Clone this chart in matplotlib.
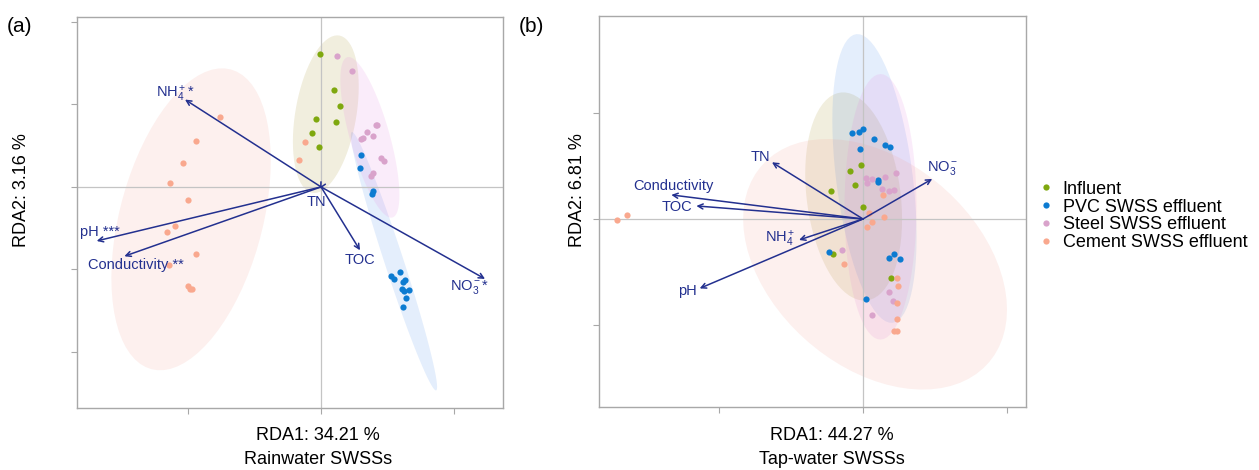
import numpy as np
import matplotlib
matplotlib.use("Agg")
import matplotlib.pyplot as plt
from matplotlib.lines import Line2D

plt.rcParams["font.family"] = ["Liberation Sans", "DejaVu Sans"]
plt.rcParams["mathtext.fontset"] = "custom"
plt.rcParams["mathtext.rm"] = "Liberation Sans"
plt.rcParams["mathtext.it"] = "Liberation Sans:italic"
plt.rcParams["mathtext.bf"] = "Liberation Sans:bold"

# ---------------- data ----------------
groups = ["Influent", "PVC SWSS effluent", "Steel SWSS effluent", "Cement SWSS effluent"]

# Rainwater SWSSs: sample scores (RDA1, RDA2)
rain_influent_x = [-0.005, 0.098, 0.143, -0.035, 0.110, -0.065, -0.013]
rain_influent_y = [1.610, 1.170, 0.984, 0.824, 0.786, 0.655, 0.479]
rain_pvc_x = [0.301, 0.293, 0.388, 0.381, 0.529, 0.546, 0.596, 0.629, 0.617, 0.612, 0.622, 0.662, 0.642, 0.617]
rain_pvc_y = [0.392, 0.226, -0.048, -0.085, -1.079, -1.119, -1.034, -1.127, -1.156, -1.232, -1.265, -1.253, -1.349, -1.455]
rain_steel_x = [0.118, 0.233, 0.411, 0.424, 0.348, 0.388, 0.301, 0.316, 0.454, 0.474, 0.388, 0.373]
rain_steel_y = [1.592, 1.406, 0.747, 0.747, 0.667, 0.618, 0.586, 0.594, 0.347, 0.319, 0.174, 0.137]
rain_cement_x = [-0.759, -0.937, -1.035, -1.135, -0.997, -1.100, -1.155, -0.940, -1.143, -1.000, -0.985, -0.972, -0.120, -0.168]
rain_cement_y = [0.853, 0.562, 0.287, 0.053, -0.162, -0.473, -0.545, -0.816, -0.941, -1.196, -1.240, -1.240, 0.541, 0.331]

# Rainwater SWSSs: environmental factor vectors
rain_env_labels = [r"NH$_4^+$*", "pH ***", "Conductivity **", "TN", "TOC", r"NO$_3^-$*"]
rain_env_x = [-1.023, -1.687, -1.479, -0.008, 0.293, 1.233]
rain_env_y = [1.059, -0.655, -0.840, -0.024, -0.768, -1.115]
rain_label_x = [-1.098, -1.662, -1.391, -0.038, 0.293, 1.118]
rain_label_y = [1.131, -0.545, -0.941, -0.182, -0.881, -1.212]

# Tap-water SWSSs: sample scores (RDA1, RDA2)
tap_influent_x = [-0.012, -0.088, -0.058, -0.222, 0.000, -0.211, 0.194]
tap_influent_y = [0.513, 0.453, 0.318, 0.264, 0.113, -0.333, -0.560]
tap_pvc_x = [-0.074, -0.025, 0.002, 0.079, 0.150, 0.190, -0.019, 0.102, 0.104, -0.236, 0.183, 0.213, 0.255, 0.019]
tap_pvc_y = [0.808, 0.824, 0.852, 0.758, 0.698, 0.679, 0.657, 0.368, 0.352, -0.314, -0.365, -0.327, -0.377, -0.752]
tap_steel_x = [0.023, 0.028, 0.060, 0.155, 0.227, 0.132, 0.178, 0.213, -0.146, 0.178, 0.208, 0.065]
tap_steel_y = [0.390, 0.343, 0.380, 0.396, 0.437, 0.283, 0.267, 0.270, -0.289, -0.692, -0.774, -0.909]
tap_cement_x = [0.141, 0.042, 0.148, 0.065, 0.030, -0.130, 0.236, 0.243, 0.236, 0.238, 0.215, 0.236, -1.706, -1.641]
tap_cement_y = [0.226, 0.057, 0.019, -0.031, -0.079, -0.425, -0.560, -0.632, -0.796, -0.943, -1.057, -1.057, -0.009, 0.041]

# Tap-water SWSSs: environmental factor vectors
tap_env_labels = ["Conductivity", "TOC", "TN", r"NH$_4^+$", "pH", r"NO$_3^-$"]
tap_env_x = [-1.331, -1.157, -0.632, -0.444, -1.134, 0.481]
tap_env_y = [0.227, 0.123, 0.535, -0.198, -0.655, 0.378]
tap_label_x = [-1.315, -1.292, -0.711, -0.574, -1.220, 0.556]
tap_label_y = [0.312, 0.117, 0.583, -0.192, -0.677, 0.485]

# ---------------- style ----------------
point_colors = ["#7FA80F", "#0C7BD1", "#D9A3CB", "#F9A88E"]
fill_colors = ["#A28E23", "#4B8EEB", "#E480DE", "#F29B8E"]
arrow_color = "#23308F"
frame_color = "#A8A8A8"
zero_color = "#C4C4C4"


def t_ellipse(x, y, level=0.95, segments=72, nu=5):
    """Confidence ellipse from a robust multivariate-t covariance estimate."""
    pts = np.column_stack([x, y]).astype(float)
    n, p = pts.shape
    loc = pts.mean(axis=0)
    w = np.ones(n)
    X = pts - loc
    for _ in range(25):
        w0 = w
        X = pts - loc
        _, d, vt = np.linalg.svd(np.sqrt(w / w.sum())[:, None] * X, full_matrices=False)
        wX = X @ vt.T @ np.diag(1.0 / d)
        Q = (wX ** 2).sum(axis=1)
        w = (nu + p) / (nu + Q)
        loc = (w[:, None] * pts).sum(axis=0) / w.sum()
        if np.all(np.abs(w - w0) < 0.01):
            break
    sX = np.sqrt(w)[:, None] * X
    cov = sX.T @ sX / n
    upper = np.linalg.cholesky(cov).T
    dfd = n - 1
    fq = (dfd / 2.0) * ((1 - level) ** (-2.0 / dfd) - 1)
    radius = np.sqrt(2 * fq)
    ang = np.linspace(0, 2 * np.pi, segments + 1)
    circle = np.column_stack([np.cos(ang), np.sin(ang)])
    ell = loc + radius * circle @ upper
    return ell[:, 0], ell[:, 1]


def draw_panel(ax, samples, env_x, env_y, env_labels, lab_x, lab_y, xlim, ylim, xticks, yticks):
    for (gx, gy), fc in zip(samples, fill_colors):
        ex, ey = t_ellipse(gx, gy)
        ax.fill(ex, ey, color=fc, alpha=0.15, lw=0, zorder=1)
    ax.axhline(0, color=zero_color, lw=0.9, zorder=2)
    ax.axvline(0, color=zero_color, lw=0.9, zorder=2)
    for (gx, gy), pc in zip(samples, point_colors):
        ax.scatter(gx, gy, s=20, color=pc, lw=0, zorder=3)
    for tx, ty in zip(env_x, env_y):
        ax.annotate("", xy=(tx, ty), xytext=(0, 0),
                    arrowprops=dict(arrowstyle="->", color=arrow_color, lw=1.1,
                                    shrinkA=0, shrinkB=0, mutation_scale=9),
                    zorder=4)
    for lx, ly, txt in zip(lab_x, lab_y, env_labels):
        ax.text(lx, ly, txt, color=arrow_color, fontsize=10.5, ha="center", va="center", zorder=5)
    ax.set_xlim(*xlim)
    ax.set_ylim(*ylim)
    ax.set_xticks(xticks)
    ax.set_yticks(yticks)
    ax.set_xticklabels([])
    ax.set_yticklabels([])
    ax.tick_params(length=4, width=0.8, color=frame_color)
    for sp in ax.spines.values():
        sp.set_color(frame_color)
        sp.set_linewidth(1.0)


W, H = 1259, 470
fig = plt.figure(figsize=(W / 100, H / 100), dpi=100)

ax1 = fig.add_axes([77 / W, 1 - 408 / H, 426 / W, 391 / H])
draw_panel(ax1,
           [(rain_influent_x, rain_influent_y), (rain_pvc_x, rain_pvc_y),
            (rain_steel_x, rain_steel_y), (rain_cement_x, rain_cement_y)],
           rain_env_x, rain_env_y, rain_env_labels, rain_label_x, rain_label_y,
           (-1.835, 1.368), (-2.68, 2.06), [-1, 0, 1], [-2, -1, 0, 1, 2])

ax2 = fig.add_axes([599 / W, 1 - 407 / H, 427 / W, 391 / H])
draw_panel(ax2,
           [(tap_influent_x, tap_influent_y), (tap_pvc_x, tap_pvc_y),
            (tap_steel_x, tap_steel_y), (tap_cement_x, tap_cement_y)],
           tap_env_x, tap_env_y, tap_env_labels, tap_label_x, tap_label_y,
           (-1.833, 1.132), (-1.774, 1.915), [-1, 0, 1], [-1, 0, 1])

# panel tags and axis titles
fig.text(20 / W, 1 - 26 / H, "(a)", fontsize=15, ha="center", va="center")
fig.text(531 / W, 1 - 26 / H, "(b)", fontsize=15, ha="center", va="center")
fig.text(22 / W, 1 - 190 / H, "RDA2: 3.16 %", fontsize=13, rotation=90, ha="center", va="center")
fig.text(577 / W, 1 - 190 / H, "RDA2: 6.81 %", fontsize=13, rotation=90, ha="center", va="center")
fig.text(318 / W, 1 - 436 / H, "RDA1: 34.21 %", fontsize=13, ha="center", va="center")
fig.text(318 / W, 1 - 459 / H, "Rainwater SWSSs", fontsize=13, ha="center", va="center")
fig.text(832 / W, 1 - 436 / H, "RDA1: 44.27 %", fontsize=13, ha="center", va="center")
fig.text(832 / W, 1 - 459 / H, "Tap-water SWSSs", fontsize=13, ha="center", va="center")

handles = [Line2D([], [], marker="o", ls="", color=c, markersize=4.5, markeredgewidth=0)
           for c in point_colors]
fig.legend(handles, groups, loc="center left", bbox_to_anchor=(1041 / W, 1 - 216 / H),
           frameon=False, fontsize=13, handlelength=0.6, handletextpad=0.6,
           labelspacing=0.05, borderpad=0, borderaxespad=0)

fig.savefig("out.png", dpi=100)
